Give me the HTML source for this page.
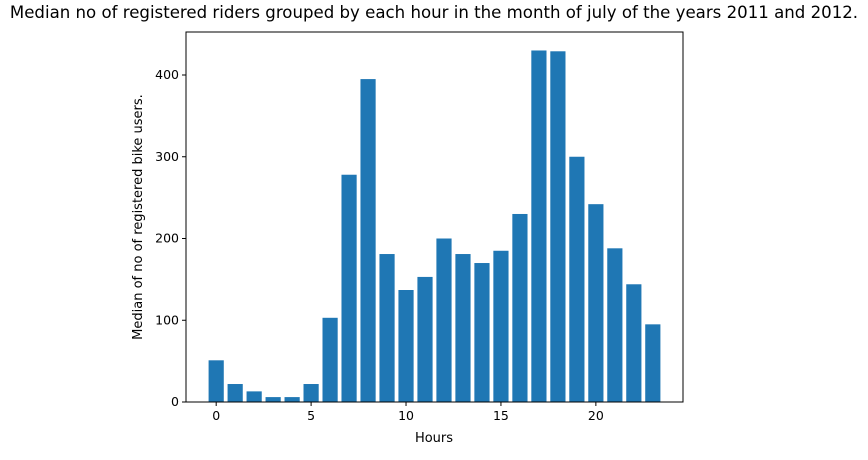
<!DOCTYPE html>
<html><head><meta charset="utf-8"><style>
body{margin:0;background:#fff;}
svg text{font-family:"DejaVu Sans","Liberation Sans",sans-serif;fill:#000;}
</style></head><body>
<svg id="chart" width="868" height="455" xmlns="http://www.w3.org/2000/svg">
<text x="434" y="18" font-size="16.6" text-anchor="middle">Median no of registered riders grouped by each hour in the month of july of the years 2011 and 2012.</text>
<g id="bars"></g>
<g id="axes"></g>
<text x="434" y="442" font-size="13" text-anchor="middle">Hours</text>
<text transform="translate(142,217) rotate(-90)" font-size="13" text-anchor="middle">Median of no of registered bike users.</text>
</svg>
<script>
const hours=[0,1,2,3,4,5,6,7,8,9,10,11,12,13,14,15,16,17,18,19,20,21,22,23];
const riders=[51,22,13,6,6,22,103,278,395,181,137,153,200,181,170,185,230,430,429,300,242,188,144,95];
const xTicks=[0,5,10,15,20];
const yTicks=[0,100,200,300,400];
const L=186,R=683,T=32,B=402;
const xmin=-1.59,xmax=24.59,ymax=452.6;
const sx=v=>L+(v-xmin)/(xmax-xmin)*(R-L);
const sy=v=>B-v/ymax*(B-T);
const NS="http://www.w3.org/2000/svg";
const bars=document.getElementById('bars'),axes=document.getElementById('axes');
function mk(tag,attrs,parent){const e=document.createElementNS(NS,tag);for(const k in attrs)e.setAttribute(k,attrs[k]);parent.appendChild(e);return e;}
hours.forEach((h,i)=>{
  const x0=sx(h-0.4),x1=sx(h+0.4);
  const r=mk('rect',{x:x0,y:sy(riders[i]),width:x1-x0,height:B-sy(riders[i]),fill:'#1f77b4'},bars);
  
  
});
const frame=mk('rect',{x:L,y:T,width:R-L,height:B-T,fill:'none',stroke:'#000','stroke-width':1},axes);


xTicks.forEach(t=>{
  const x=sx(t);
  mk('line',{x1:x,x2:x,y1:B,y2:B+4,stroke:'#000'},axes);
  const tx=mk('text',{x:x,y:B+18,'font-size':12.5,'text-anchor':'middle'},axes);
  tx.textContent=t;
  
  
});
yTicks.forEach(t=>{
  const y=sy(t);
  mk('line',{x1:L-4,x2:L,y1:y,y2:y,stroke:'#000'},axes);
  const tx=mk('text',{x:L-7,y:y+4,'font-size':12.5,'text-anchor':'end'},axes);
  tx.textContent=t;
  
  
});
</script>
</body></html>
